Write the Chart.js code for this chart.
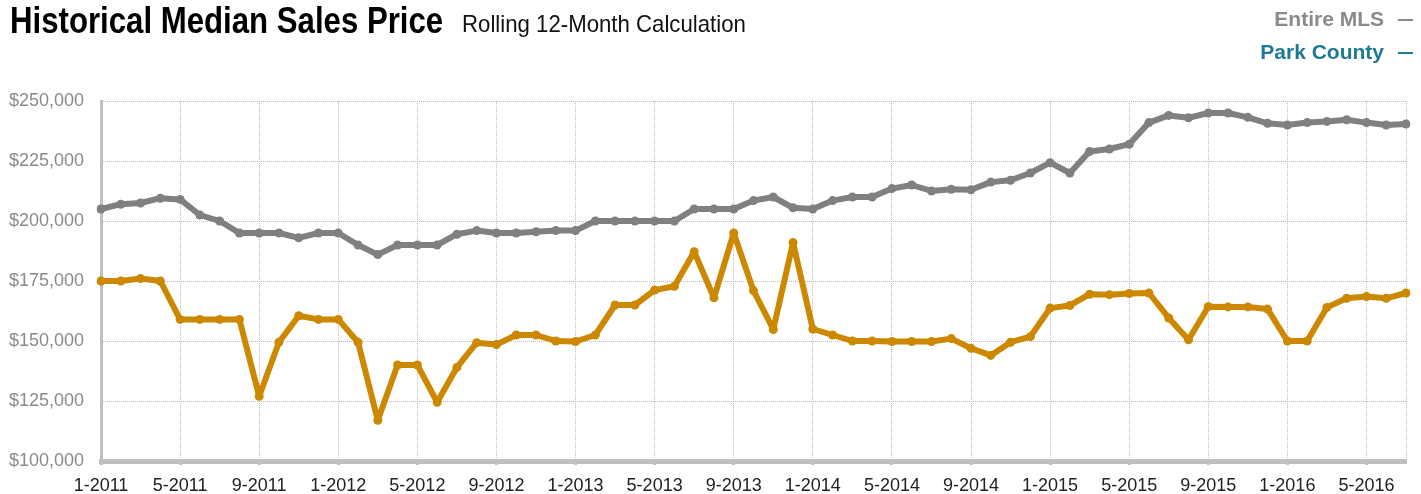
<!DOCTYPE html>
<html>
<head>
<meta charset="utf-8">
<script src="https://cdn.jsdelivr.net/npm/chart.js@4.4.1/dist/chart.umd.min.js"></script>
<style>
  body { margin: 0; background: #fff; }
  #wrap { position: relative; width: 1421px; height: 494px; overflow: hidden; }
  #chart { position: absolute; left: 0; top: 0; }
  .fit { position: absolute; white-space: nowrap; transform-origin: left top; display: inline-block; }
  #title { left: 10px; top: 0px; font: bold 36px "Liberation Sans", Arial, sans-serif; color: #000; }
  #sub { left: 462px; top: 10px; font: 24px "Liberation Sans Narrow", "Liberation Sans", Arial, sans-serif; color: #111; }
  .leg { position: absolute; right: 8px; font: bold 21px "Liberation Sans", Arial, sans-serif; white-space: nowrap; }
  .leg span { display: inline-block; width: 15px; height: 2px; background: currentColor; vertical-align: middle; margin-left: 14px; }
  #leg1 { top: 7px; color: #8a8a8a; }
  #leg2 { top: 40px; color: #1d7a94; }
</style>
</head>
<body>
<div id="wrap">
  <canvas id="chart" width="1421" height="494"></canvas>
  <div id="title" class="fit">Historical Median Sales Price</div>
  <div id="sub" class="fit">Rolling 12-Month Calculation</div>
  <div id="leg1" class="leg">Entire MLS<span></span></div>
  <div id="leg2" class="leg">Park County<span></span></div>
</div>
<script>
let months = [
  '1-2011','2-2011','3-2011','4-2011','5-2011','6-2011','7-2011','8-2011','9-2011','10-2011','11-2011','12-2011',
  '1-2012','2-2012','3-2012','4-2012','5-2012','6-2012','7-2012','8-2012','9-2012','10-2012','11-2012','12-2012',
  '1-2013','2-2013','3-2013','4-2013','5-2013','6-2013','7-2013','8-2013','9-2013','10-2013','11-2013','12-2013',
  '1-2014','2-2014','3-2014','4-2014','5-2014','6-2014','7-2014','8-2014','9-2014','10-2014','11-2014','12-2014',
  '1-2015','2-2015','3-2015','4-2015','5-2015','6-2015','7-2015','8-2015','9-2015','10-2015','11-2015','12-2015',
  '1-2016','2-2016','3-2016','4-2016','5-2016','6-2016','7-2016'
];

let entireMls = [
  205000, 207000, 207500, 209500, 209000, 202500, 200000, 195000, 195000, 195000, 193000, 195000,
  195000, 190000, 186000, 190000, 190000, 190000, 194500, 196000, 195000, 195000, 195500, 196000,
  196000, 200000, 200000, 200000, 200000, 200000, 205000, 205000, 205000, 208500, 210000, 205500,
  205000, 208500, 210000, 210000, 213500, 215000, 212500, 213200, 213000, 216200, 217000, 220000,
  224300, 220000, 229000, 230000, 232000, 241000, 244000, 243000, 245000, 245000, 243200, 240700,
  240000, 241000, 241500, 242200, 241000, 240000, 240400
];

let parkCounty = [
  175000, 175000, 176000, 175000, 159000, 159000, 159000, 159000, 127000, 149500, 160500, 159000,
  159000, 149500, 117000, 140000, 140000, 124500, 139000, 149300, 148500, 152500, 152500, 150000,
  149800, 152500, 165000, 165000, 171200, 172800, 187200, 168000, 195000, 171000, 154800, 191000,
  155000, 152500, 150000, 150000, 149800, 149800, 149800, 151000, 147000, 144000, 149500, 151800,
  163700, 164800, 169500, 169300, 169800, 170000, 159600, 150500, 164300, 164200, 164200, 163300,
  150000, 150000, 164000, 167800, 168500, 167800, 170000
];

let yTicks = [100000, 125000, 150000, 175000, 200000, 225000, 250000];

// squeeze the header text so it looks condensed like the original
function fitWidth(id, target) {
    let el = document.getElementById(id);
    let w = el.offsetWidth;
    el.style.transform = `scaleX(${target / w})`;
}
fitWidth('title', 433);
fitWidth('sub', 284);

const gridColor = '#bdbdbd', axisColor = '#c0c0c0';

// dotted frame line on the right edge of the plot
const rightEdge = {
    id: 'rightEdge',
    beforeDatasetsDraw(chart) {
        let {ctx, chartArea} = chart;
        ctx.save();
        ctx.strokeStyle = gridColor;
        ctx.lineWidth = 1;
        ctx.setLineDash([1, 1]);
        ctx.beginPath();
        ctx.moveTo(Math.round(chartArea.right) + 0.5, chartArea.top);
        ctx.lineTo(Math.round(chartArea.right) + 0.5, chartArea.bottom);
        ctx.stroke();
        ctx.restore();
    }
};

let lineStyle = { borderWidth: 6, pointRadius: 4.5, pointBorderWidth: 0, tension: 0, borderJoinStyle: 'round', borderCapStyle: 'round' };

new Chart(document.getElementById('chart'), {
    type: 'line',
    data: {
        labels: months,
        datasets: [{
            label: 'Park County',
            data: parkCounty,
            borderColor: '#cc8800',
            backgroundColor: '#cc8800',
            ...lineStyle
        }, {
            label: 'Entire MLS',
            data: entireMls,
            borderColor: '#808080',
            backgroundColor: '#808080',
            ...lineStyle
        }]
    },
    options: {
        responsive: false,
        animation: false,
        layout: { padding: { top: 101, right: 15, left: 0, bottom: 0 } },
        plugins: { legend: { display: false }, tooltip: { enabled: false } },
        scales: {
            x: {
                afterFit: (s) => { s.height = 33; },
                grid: { color: gridColor, lineWidth: 1, drawTicks: true, tickLength: 4, tickWidth: 3, tickColor: axisColor, tickBorderDash: [] },
                border: { display: true, color: axisColor, width: 5, dash: [1, 1] },
                ticks: {
                    autoSkip: false, maxRotation: 0, padding: 10,
                    color: '#222', font: { family: 'Liberation Sans, Arial, sans-serif', size: 18 },
                    callback: function (v, i) { return i % 4 === 0 ? months[i] : null; }
                }
            },
            y: {
                min: yTicks[0], max: yTicks[yTicks.length - 1],
                afterFit: (s) => { s.width = 101; },
                afterBuildTicks: (s) => { s.ticks = yTicks.map(v => ({ value: v })); },
                grid: { color: gridColor, lineWidth: 1, drawTicks: false },
                border: { display: true, color: axisColor, width: 3, dash: [1, 1] },
                ticks: {
                    padding: 17, color: '#8a8a8a', font: { family: 'Liberation Sans, Arial, sans-serif', size: 18 },
                    callback: (v) => '$' + v.toLocaleString('en-US')
                }
            }
        }
    },
    plugins: [rightEdge]
});
</script>
</body>
</html>
